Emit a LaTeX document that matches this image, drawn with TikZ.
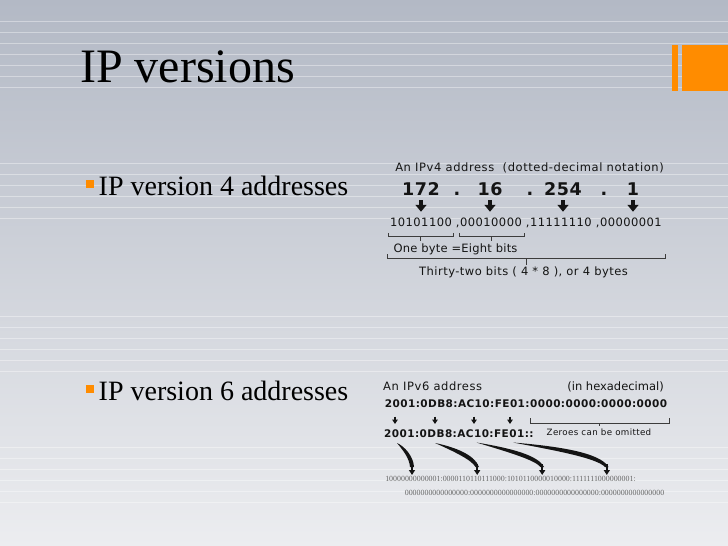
\documentclass[tikz,border=0pt]{standalone}
\usepackage{fontspec}
\setmainfont{Liberation Serif}
\newfontfamily\dvs{DejaVu Sans}
\usetikzlibrary{arrows.meta}

\definecolor{bgtop}{RGB}{179,185,197}
\definecolor{bgbottom}{RGB}{236,237,240}
\definecolor{accent}{RGB}{255,140,0}
\definecolor{txt}{RGB}{20,20,20}
\definecolor{rule}{RGB}{60,60,60}

\tikzset{
  stripe/.style={draw=white, draw opacity=0.38, line width=1pt},
  bulletsq/.style={fill=accent},
  headline/.style={inner sep=0pt, anchor=base west, text=black, font=\fontsize{48}{52}\selectfont},
  itemtext/.style={inner sep=0pt, anchor=base west, text=black, font=\fontsize{28}{32}\selectfont},
  lbl/.style={inner sep=0pt, anchor=base, text=txt, font=\dvs\fontsize{11.5}{13}\selectfont\addfontfeature{LetterSpace=4}},
  octet/.style={inner sep=0pt, anchor=base, text=txt, font=\dvs\bfseries\fontsize{17.5}{19}\selectfont\addfontfeature{LetterSpace=3}},
  hexbold/.style={inner sep=0pt, anchor=base, text=txt, font=\dvs\bfseries\fontsize{10.5}{12}\selectfont\addfontfeature{LetterSpace=4}},
  note/.style={inner sep=0pt, anchor=base, text=txt, font=\dvs\fontsize{8.7}{11}\selectfont\addfontfeature{LetterSpace=4}},
  tinybits/.style={inner sep=0pt, anchor=base, text=black!60, font=\fontsize{7.9}{9}\selectfont},
  fatarrow/.style={draw=txt, line width=4pt, -{Triangle[width=11pt,length=7pt]}},
  thinarrow/.style={draw=txt, line width=1.4pt, -{Triangle[width=5.5pt,length=4.5pt]}},
  brushtip/.style={draw=txt, line width=1.6pt, -{Triangle[width=6pt,length=5pt]}},
  brushbody/.style={fill=txt},
  bracketline/.style={draw=rule, line width=0.8pt},
}

\begin{document}
\begin{tikzpicture}[x=1pt,y=-1pt]
\useasboundingbox (0,0) rectangle (728,546);

% slide background
\shade[top color=bgtop, bottom color=bgbottom] (0,0) rectangle (728,546);
\foreach \yy in {21.5,32.5,43.5,54.5,65.5,76.5,87.5,
                 163,174,185,196,207,218,
                 316,327,338,349,360,371,
                 447,458,469,480,491,502}
  \draw[stripe] (0,\yy) -- (728,\yy);

% corner accent
\fill[accent] (671.7,45) rectangle (678.3,91);
\fill[accent] (682.3,45) rectangle (728,91);

% title and bullet items
\node[headline] (title) at (80,82) {IP versions};
\fill[bulletsq] (86,180) rectangle (94,188);
\node[itemtext] (item4) at (98.5,195) {IP version 4 addresses};
\fill[bulletsq] (86,385) rectangle (94,393);
\node[itemtext] (item6) at (98.5,400) {IP version 6 addresses};

% ---- IPv4 address ----
\node[lbl, font=\dvs\fontsize{11.5}{13}\selectfont\addfontfeature{LetterSpace=5}] (v4head) at (529.5,171.5) {An IPv4 address\ \ (dotted-decimal notation)};
\node[octet] (n172) at (421,195) {172};
\node[octet] (d1) at (457,195) {.};
\node[octet] (n16) at (490,195) {16};
\node[octet] (d2) at (530,195) {.};
\node[octet] (n254) at (563,195) {254};
\node[octet] (d3) at (604,195) {.};
\node[octet] (n1) at (633,195) {1};
\node[lbl] (bin4) at (526,226.5) {10101100 ,00010000 ,11111110 ,00000001};

\foreach \o in {n172,n16,n254,n1}
  \draw[fatarrow, shorten <=5pt, shorten >=6pt] (\o.south) -- (\o.south |- bin4.north);

% byte brackets
\draw[bracketline] (388,233) -- (388,236) -- (453,236) -- (453,233);
\draw[bracketline] (420.5,236) -- (420.5,241);
\draw[bracketline] (459,233) -- (459,236) -- (524.5,236) -- (524.5,233);
\draw[bracketline] (491.5,236) -- (491.5,241);
\node[lbl, font=\dvs\fontsize{11.5}{13}\selectfont\addfontfeature{LetterSpace=2}] (onebyte) at (455.5,252.5) {One byte =Eight bits};
\draw[bracketline] (387,254) -- (387,258) -- (665,258) -- (665,254);
\draw[bracketline] (526,258) -- (526,265);
\node[lbl] (allbits) at (523.5,275.5) {Thirty-two bits ( 4 * 8 ), or 4 bytes};

% ---- IPv6 address ----
\node[lbl, anchor=base west, font=\dvs\fontsize{11.5}{13}\selectfont\addfontfeature{LetterSpace=5}] (v6head) at (383,390) {An IPv6 address};
\node[lbl, anchor=base east, font=\dvs\fontsize{11.5}{13}\selectfont] (v6hex) at (664,390) {(in hexadecimal)};
\node[hexbold] (v6full) at (526,407) {2001:0DB8:AC10:FE01:0000:0000:0000:0000};
\node[hexbold, anchor=base west] (v6short) at (384,437.3) {2001:0DB8:AC10:FE01::};

\foreach \xx [count=\k] in {395,435,474,510} {
  \coordinate (up\k) at (\xx,416.5);
  \coordinate (dn\k) at (\xx,424);
  \draw[thinarrow] (up\k) -- (dn\k);
}

\draw[bracketline] (530,418) -- (530,423) -- (669,423) -- (669,418);
\draw[bracketline] (599,423) -- (599,426);
\node[note] (omit) at (599,435) {Zeroes can be omitted};

% brush strokes down to the binary groups
\fill[brushbody] (397,443) .. controls (404,446) and (413.5,456) .. (414,467)
  -- (410,467) .. controls (409.5,458) and (402,449) .. cycle;
\fill[brushbody] (435,443) .. controls (455,447) and (475,455) .. (479,467)
  -- (475.5,467) .. controls (472,460) and (453,451) .. cycle;
\fill[brushbody] (476.5,442.5) .. controls (510,448) and (538,455) .. (544,467)
  -- (540.5,467) .. controls (535,460) and (508,452) .. cycle;
\fill[brushbody] (513,442.5) .. controls (555,446) and (600,452) .. (608.5,467)
  -- (605,467) .. controls (597,458) and (553,450) .. cycle;

\foreach \xx [count=\k] in {412,477.2,542.2,606.8} {
  \coordinate (bs\k) at (\xx,464);
  \coordinate (be\k) at (\xx,475);
  \draw[brushtip] (bs\k) -- (be\k);
}

\node[tinybits] (bits6a) at (510.5,481.3) {10000000000001:0000110110111000:1010110000010000:1111111000000001:};
\node[tinybits] (bits6b) at (534.5,495) {0000000000000000:0000000000000000:0000000000000000:0000000000000000};

\end{tikzpicture}
\end{document}
